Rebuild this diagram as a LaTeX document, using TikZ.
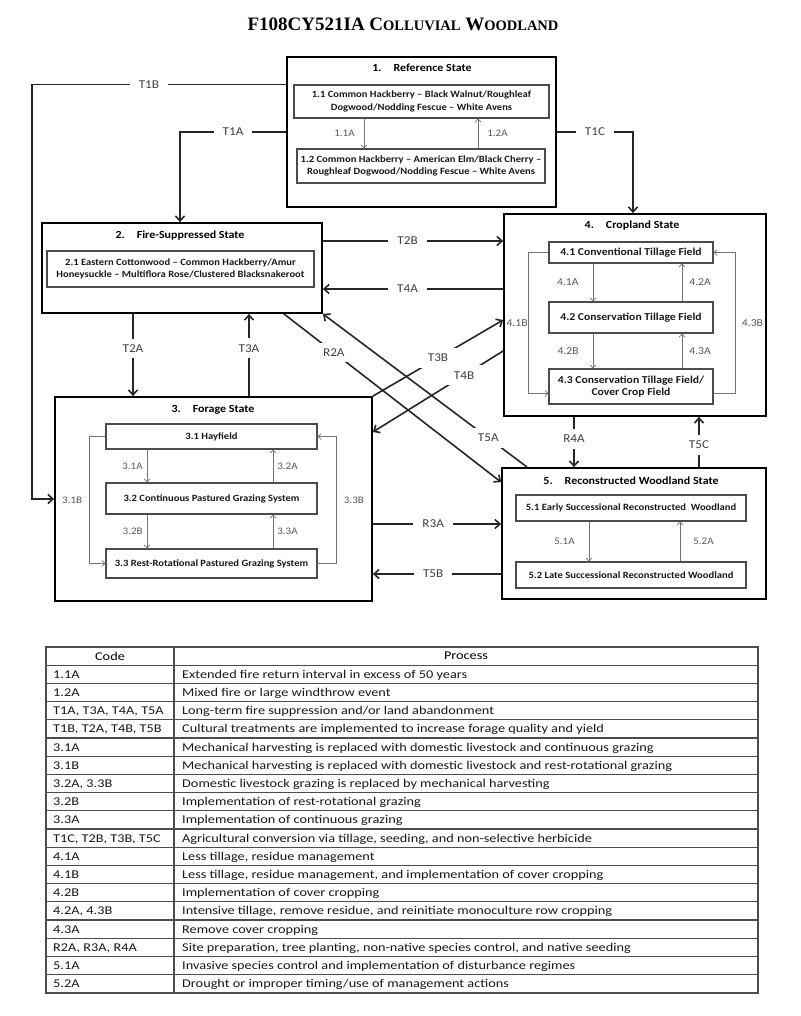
\documentclass[tikz,border=0pt]{standalone}
\usepackage{fontspec}
\setmainfont{Carlito}[FakeStretch=1.1]
\newfontfamily\tablefont{Carlito}[FakeStretch=1.2]
\newfontfamily\titlefont{Liberation Serif}
\usetikzlibrary{arrows.meta,positioning}

\begin{document}
\begin{tikzpicture}[x=1pt,y=-1pt,>={Straight Barb[length=5pt,width=9pt]}]

    \tikzstyle{stateBox}=[draw=black, line width=1.8pt, rectangle, inner sep=0pt]
    \tikzstyle{phaseBox}=[draw=black!70, line width=1.1pt, rectangle, align=center, inner sep=1pt, font=\fontsize{9.6}{12.5}\selectfont\bfseries, text=black!90]
    \tikzstyle{cropBox}=[phaseBox, font=\fontsize{10.6}{11.5}\selectfont\bfseries]
    \tikzstyle{stateTitle}=[font=\fontsize{10.9}{12}\selectfont\bfseries]
    \tikzstyle{trans}=[line width=1.6pt, draw=black!85, ->]
    \tikzstyle{pathway}=[>={Straight Barb[length=3pt,width=6pt]}, line width=0.7pt, draw=black!55, ->]
    \tikzstyle{transLabel}=[fill=white, inner xsep=9pt, inner ysep=6pt, font=\fontsize{12}{12}\selectfont, text=black!75]
    \tikzstyle{pathLabel}=[font=\fontsize{10}{10}\selectfont, text=black!65, inner sep=1pt]
    \tikzstyle{cropLabel}=[pathLabel, font=\fontsize{10.6}{10.6}\selectfont]
    \tikzstyle{cell}=[anchor=base west, inner sep=0pt, font=\tablefont\fontsize{11.9}{11.9}\selectfont, text=black!90]
    \tikzstyle{tableLine}=[draw=black!70, line width=1.1pt]

    % Background
    \fill[white] (0,0) rectangle (800,1016);

    % Title
    \node at (403,24) (title) {\titlefont\bfseries\fontsize{19}{19}\selectfont F108CY521IA C{\fontsize{14.5}{14.5}\selectfont OLLUVIAL} W{\fontsize{14.5}{14.5}\selectfont OODLAND}};

    % States
    \node at (421.5,132) [stateBox, minimum width=269pt, minimum height=150pt] (RS) {};
    \node at (182,268)   [stateBox, minimum width=280pt, minimum height=90pt]  (FS) {};
    \node at (213.5,499) [stateBox, minimum width=317pt, minimum height=204pt] (FG) {};
    \node at (635,315)   [stateBox, minimum width=262pt, minimum height=202pt] (CS) {};
    \node at (634,533.5) [stateBox, minimum width=264pt, minimum height=131pt] (RW) {};

    \node at (422,68)  [stateTitle] (RStitle) {1.\hspace{1.1em}Reference State};
    \node at (180,236) [stateTitle] (FStitle) {2.\hspace{1.1em}Fire-Suppressed State};
    \node at (213,410) [stateTitle] (FGtitle) {3.\hspace{1.1em}Forage State};
    \node at (632,226) [stateTitle] (CStitle) {4.\hspace{1.1em}Cropland State};
    \node at (631,481) [stateTitle] (RWtitle) {5.\hspace{1.1em}Reconstructed Woodland State};

    % Phases
    \node at (421.5,101.5) [phaseBox, minimum width=255pt, minimum height=33pt] (S11) {1.1 Common Hackberry – Black Walnut/Roughleaf\\Dogwood/Nodding Fescue – White Avens};
    \node at (421,166)     [phaseBox, minimum width=248pt, minimum height=34pt] (S12) {1.2 Common Hackberry – American Elm/Black Cherry –\\Roughleaf Dogwood/Nodding Fescue – White Avens};
    \node at (180.5,269)   [phaseBox, minimum width=267pt, minimum height=36pt] (S21) {2.1 Eastern Cottonwood – Common Hackberry/Amur\\Honeysuckle – Multiflora Rose/Clustered Blacksnakeroot};
    \node at (211.5,436.5) [phaseBox, minimum width=211pt, minimum height=25pt] (S31) {3.1 Hayfield};
    \node at (211.5,498.5) [phaseBox, minimum width=211pt, minimum height=31pt] (S32) {3.2 Continuous Pastured Grazing System};
    \node at (211.5,563.5) [phaseBox, minimum width=211pt, minimum height=29pt] (S33) {3.3 Rest-Rotational Pastured Grazing System};
    \node at (631,252.5)   [cropBox, minimum width=164pt, minimum height=21pt] (S41) {4.1 Conventional Tillage Field};
    \node at (631,317.5)   [cropBox, minimum width=164pt, minimum height=31pt] (S42) {4.2 Conservation Tillage Field};
    \node at (631,386.5)   [cropBox, minimum width=164pt, minimum height=35pt] (S43) {4.3 Conservation Tillage Field/\\Cover Crop Field};
    \node at (631,508)     [phaseBox, minimum width=230pt, minimum height=26pt] (S51) {5.1 Early Successional Reconstructed\ \ Woodland};
    \node at (631,575)     [phaseBox, minimum width=230pt, minimum height=26pt] (S52) {5.2 Late Successional Reconstructed Woodland};

    % Community pathways
    \draw[pathway] ([xshift=-57.5pt]S11.south) -- node[pathLabel, left=8pt] (l11A) {1.1A} ([xshift=-57pt]S12.north);
    \draw[pathway] ([xshift=57pt]S12.north) -- node[pathLabel, right=8pt] (l12A) {1.2A} ([xshift=56.5pt]S11.south);
    \draw[pathway] ([xshift=-64.5pt]S31.south) -- node[pathLabel, left=3pt] (l31A) {3.1A} ([xshift=-64.5pt]S32.north);
    \draw[pathway] ([xshift=61.5pt]S32.north) -- node[pathLabel, right=3pt] (l32A) {3.2A} ([xshift=61.5pt]S31.south);
    \draw[pathway] ([xshift=-64.5pt]S32.south) -- node[pathLabel, left=3pt] (l32B) {3.2B} ([xshift=-64.5pt]S33.north);
    \draw[pathway] ([xshift=61.5pt]S33.north) -- node[pathLabel, right=3pt] (l33A) {3.3A} ([xshift=61.5pt]S32.south);
    \draw[pathway] ([xshift=-38pt]S41.south) -- node[cropLabel, left=13pt] (l41A) {4.1A} ([xshift=-38pt]S42.north);
    \draw[pathway] ([xshift=51pt]S42.north) -- node[cropLabel, right=6pt] (l42A) {4.2A} ([xshift=51pt]S41.south);
    \draw[pathway] ([xshift=-38pt]S42.south) -- node[cropLabel, left=13pt] (l42B) {4.2B} ([xshift=-38pt]S43.north);
    \draw[pathway] ([xshift=51pt]S43.north) -- node[cropLabel, right=6pt] (l43A) {4.3A} ([xshift=51pt]S42.south);
    \draw[pathway] ([xshift=-42pt]S51.south) -- node[pathLabel, left=13pt] (l51A) {5.1A} ([xshift=-42pt]S52.north);
    \draw[pathway] ([xshift=49pt]S52.north) -- node[pathLabel, right=12pt] (l52A) {5.2A} ([xshift=49pt]S51.south);

    \draw[pathway] (S31.west) -- ++(-16,0) |- node[pathLabel, pos=0.25, left=6pt] (l31B) {3.1B} (S33.west);
    \draw[pathway] (S33.east) -- ++(19,0) |- node[pathLabel, pos=0.25, right=6pt] (l33B) {3.3B} (S31.east);
    \draw[pathway] (S41.west) -- ++(-20,0) |- node[cropLabel, pos=0.25, left=0pt, inner sep=0.5pt] (l41B) {4.1B} ([yshift=-7pt]S43.west);
    \draw[pathway] ([yshift=-7pt]S43.east) -- ++(22,0) |- node[cropLabel, pos=0.25, right=5pt] (l43B) {4.3B} (S41.east);

    % Transitions
    \coordinate (T2Blevel) at ([yshift=27pt]FS.east);
    \coordinate (T4Alevel) at ([yshift=-21pt]FS.east);
    \coordinate (R3Alevel) at ([yshift=-25pt]FG.east);
    \coordinate (T5Blevel) at ([yshift=-75pt]FG.east);
    \coordinate (T2Ax) at ([xshift=-49pt]FS.south);
    \coordinate (T3Ax) at ([xshift=35.5pt]FG.north);
    \coordinate (R4Ax) at ([xshift=-61pt]CS.south);
    \coordinate (T5Cx) at ([xshift=65pt]RW.north);

    \draw[trans] (RS.west |- S11.north) -- node[transLabel, pos=0.54] (lT1B) {T1B} ++(-254,0) |- (FG.west);
    \draw[trans] (RS.west) -| node[transLabel, pos=0.25] (lT1A) {T1A} ([xshift=-2pt]FS.north);
    \draw[trans] (RS.east) -| node[transLabel, pos=0.25] (lT1C) {T1C} ([xshift=-2pt]CS.north);
    \draw[trans] (T2Blevel) -- node[transLabel, pos=0.47] (lT2B) {T2B} (T2Blevel -| CS.west);
    \draw[trans] (T4Alevel -| CS.west) -- node[transLabel, pos=0.53] (lT4A) {T4A} (T4Alevel);
    \draw[trans] (T2Ax) -- node[transLabel, pos=0.42] (lT2A) {T2A} (T2Ax |- FG.north);
    \draw[trans] (T3Ax) -- node[transLabel, pos=0.58] (lT3A) {T3A} (T3Ax |- FS.south);
    \draw[trans] ([xshift=-39pt]FS.south east) -- node[transLabel, pos=0.23] (lR2A) {R2A} ([yshift=-15pt]RW.north west);
    \draw[trans] ([xshift=26pt]RW.north west) -- node[transLabel, pos=0.19] (lT5A) {T5A} (FS.south east);
    \draw[trans] (FG.north east) -- node[transLabel, pos=0.5] (lT3B) {T3B} ([yshift=-5pt]CS.west);
    \draw[trans] ([yshift=-36pt]CS.west) -- node[transLabel, pos=0.3] (lT4B) {T4B} ([yshift=67pt]FG.east);
    \draw[trans] (R3Alevel) -- node[transLabel, pos=0.47] (lR3A) {R3A} (R3Alevel -| RW.west);
    \draw[trans] (T5Blevel -| RW.west) -- node[transLabel, pos=0.53] (lT5B) {T5B} (T5Blevel);
    \draw[trans] (R4Ax) -- node[transLabel, pos=0.44] (lR4A) {R4A} (R4Ax |- RW.north);
    \draw[trans] (T5Cx) -- node[transLabel, pos=0.44] (lT5C) {T5C} (T5Cx |- CS.south);

    % Table
    \draw[tableLine] (46,647) rectangle (758,993);
    \draw[tableLine] (174,647) -- (174,993);
    \foreach \k in {1,...,18}
        \draw[tableLine] (46,{647+18.2*\k}) -- (758,{647+18.2*\k});

    \node at (110,656) [font=\tablefont\fontsize{11.9}{11.9}\selectfont, text=black] (codeHead) {Code};
    \node at (466,656) [font=\tablefont\fontsize{11.9}{11.9}\selectfont, text=black] (procHead) {Process};

    \foreach \code/\proc [count=\r] in {
        1.1A/{Extended fire return interval in excess of 50 years},
        1.2A/{Mixed fire or large windthrow event},
        {T1A, T3A, T4A, T5A}/{Long-term fire suppression and/or land abandonment},
        {T1B, T2A, T4B, T5B}/{Cultural treatments are implemented to increase forage quality and yield},
        3.1A/{Mechanical harvesting is replaced with domestic livestock and continuous grazing},
        3.1B/{Mechanical harvesting is replaced with domestic livestock and rest-rotational grazing},
        {3.2A, 3.3B}/{Domestic livestock grazing is replaced by mechanical harvesting},
        3.2B/{Implementation of rest-rotational grazing},
        3.3A/{Implementation of continuous grazing},
        {T1C, T2B, T3B, T5C}/{Agricultural conversion via tillage, seeding, and non-selective herbicide},
        4.1A/{Less tillage, residue management},
        4.1B/{Less tillage, residue management, and implementation of cover cropping},
        4.2B/{Implementation of cover cropping},
        {4.2A, 4.3B}/{Intensive tillage, remove residue, and reinitiate monoculture row cropping},
        4.3A/{Remove cover cropping},
        {R2A, R3A, R4A}/{Site preparation, tree planting, non-native species control, and native seeding},
        5.1A/{Invasive species control and implementation of disturbance regimes},
        5.2A/{Drought or improper timing/use of management actions}}
    {
        \node at (53,{660+18.2*\r}) [cell] (code\r) {\code};
        \node at (182,{660+18.2*\r}) [cell] (proc\r) {\proc};
    }

\end{tikzpicture}
\end{document}
